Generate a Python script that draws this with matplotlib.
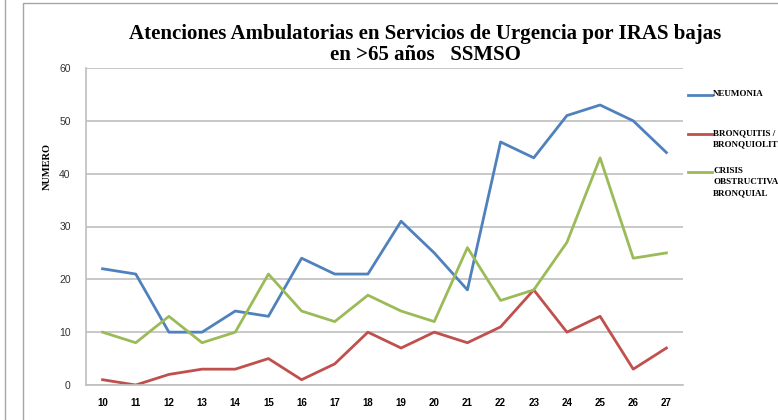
import matplotlib.pyplot as plt
from matplotlib.patches import Rectangle
from matplotlib.lines import Line2D

semanas = ["10", "11", "12", "13", "14", "15", "16", "17", "18",
           "19", "20", "21", "22", "23", "24", "25", "26", "27"]
neumonia = [22, 21, 10, 10, 14, 13, 24, 21, 21, 31, 25, 18, 46, 43, 51, 53, 50, 44]
bronquitis = [1, 0, 2, 3, 3, 5, 1, 4, 10, 7, 10, 8, 11, 18, 10, 13, 3, 7]
crisis = [10, 8, 13, 8, 10, 21, 14, 12, 17, 14, 12, 26, 16, 18, 27, 43, 24, 25]

series = [
    ("NEUMONIA", neumonia, "#4F81BD"),
    ("BRONQUITIS /\nBRONQUIOLITIS", bronquitis, "#C0504D"),
    ("CRISIS\nOBSTRUCTIVA\nBRONQUIAL", crisis, "#9BBB59"),
]

W, H = 778, 420
fig = plt.figure(figsize=(W / 100, H / 100), dpi=100)
ax = fig.add_axes([86 / W, 1 - 385 / H, (683 - 86) / W, (385 - 68) / H])

# chart frames
fig.patches.append(Rectangle((23 / W, -0.05), 1.2, 1 - 3 / H + 0.05,
                             transform=fig.transFigure, fill=False,
                             edgecolor="#A6A6A6", linewidth=1.0))
fig.lines.append(Line2D([5 / W, 5 / W], [0, 1], transform=fig.transFigure,
                        color="#A6A6A6", linewidth=1.0))

x = list(range(len(semanas)))
for name, vals, col in series:
    ax.plot(x, vals, color=col, linewidth=2.0)

ax.set_xlim(-0.5, len(semanas) - 0.5)
ax.set_ylim(0, 60)
ax.set_yticks(range(0, 61, 10))
ax.set_xticks(x)
ax.set_xticklabels(semanas, fontsize=7, fontweight="bold", family="Liberation Sans")
for t in ax.get_yticklabels():
    t.set_fontsize(7.5)
    t.set_family("Liberation Sans")
ax.tick_params(axis="y", length=0, pad=11, colors="#333333")
ax.tick_params(axis="x", length=0, pad=9, colors="black")
ax.grid(axis="y", color="#BFBFBF", linewidth=1.2)
ax.set_axisbelow(True)
for s in ["top", "right"]:
    ax.spines[s].set_visible(False)
for s in ["left", "bottom"]:
    ax.spines[s].set_color("#BFBFBF")
    ax.spines[s].set_linewidth(1.2)

fig.text(47 / W, 1 - 167 / H, "NUMERO", rotation=90, ha="center", va="center",
         fontsize=7.5, fontweight="bold", family="Liberation Serif")

fig.text(425 / W, 1 - 34 / H, "Atenciones Ambulatorias en Servicios de Urgencia por IRAS bajas",
         ha="center", va="center", fontsize=15, fontweight="bold", family="Liberation Serif")
fig.text(425 / W, 1 - 55 / H, "en >65 años   SSMSO",
         ha="center", va="center", fontsize=15, fontweight="bold", family="Liberation Serif")

# legend drawn at the right side
leg_y = [95, 134, 172]
for (name, vals, col), yy in zip(series, leg_y):
    fig.lines.append(Line2D([688 / W, 712 / W], [1 - yy / H, 1 - yy / H],
                            transform=fig.transFigure, color=col, linewidth=2.0))
    fig.text(713 / W, 1 - (yy - 5) / H, name, ha="left", va="top",
             fontsize=6.5, fontweight="bold", family="Liberation Serif",
             linespacing=1.55)

fig.savefig("out.png", dpi=100)
